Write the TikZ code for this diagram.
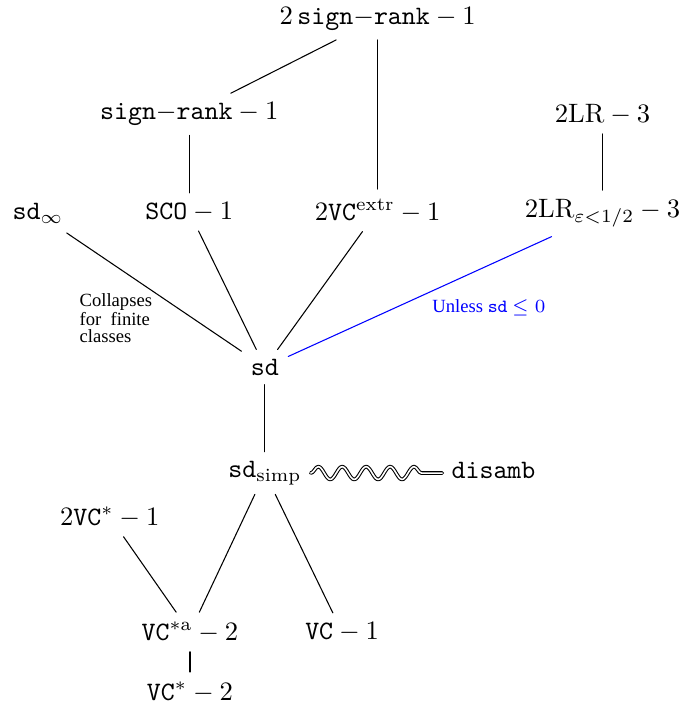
\documentclass[tikz,border=0pt]{standalone}
\usepackage{amsmath,amssymb}
\usepackage{fontspec}
\newfontfamily\notefont{Liberation Serif}
\usetikzlibrary{decorations.pathmorphing}
\newcommand{\srank}{\texttt{sign$-$rank}}

\begin{document}
\begin{tikzpicture}[line cap=round,line join=round,x=1.0cm,y=1.0cm,
  note/.style={font=\notefont\fontsize{7}{6.3}\selectfont,align=left},
  wavy/.style={double,decorate,decoration={snake,amplitude=2.4pt,segment length=9pt,post length=4pt}}]
\useasboundingbox (0,0) rectangle (8.97,9.42);

\node (srtwo) at (4.99,9.17) {$2\,\srank-1$};
\node (sr) at (2.50,7.91) {$\srank-1$};
\node (lr) at (7.96,7.91) {$2\mathrm{LR}-3$};
\node (sdinf) at (0.50,6.60) {$\texttt{sd}_\infty$};
\node (sco) at (2.50,6.62) {$\texttt{SCO}-1$};
\node (vcextr) at (4.99,6.64) {$2\texttt{VC}^{\mathrm{extr}}-1$};
\node (lreps) at (7.96,6.60) {$2\mathrm{LR}_{\varepsilon<1/2}-3$};
\node (sd) at (3.50,4.57) {$\texttt{sd}$};
\node (sdsimp) at (3.50,3.17) {$\texttt{sd}_{\mathrm{simp}}$};
\node (disamb) at (6.52,3.20) {\texttt{disamb}};
\node (vcstwo) at (1.45,2.59) {$2\texttt{VC}^*-1$};
\node (vcsa) at (2.51,1.07) {$\texttt{VC}^{*\mathrm{a}}-2$};
\node (vc) at (4.52,1.07) {$\texttt{VC}-1$};
\node (vcs) at (2.51,0.28) {$\texttt{VC}^*-2$};

% notes
\node[note] (collapse) at (1.53,5.22) {Collapses\\for\ \ finite\\classes};
\node[note,text=blue] (unless) at (6.46,5.35) {Unless \texttt{sd} $\le 0$};

\draw (srtwo) -- (sr);
\draw (srtwo) -- (vcextr);
\draw (sr) -- (sco);
\draw (lr) -- (lreps);
\draw (sdinf) -- (sd);
\draw (sco) -- (sd);
\draw (vcextr) -- (sd);
\draw [blue] (sd) -- (lreps);
\draw (sd) -- (sdsimp);
\draw [wavy] (sdsimp.east) -- (sdsimp.east -| disamb.west);
\draw (sdsimp) -- (vcsa);
\draw (sdsimp) -- (vc);
\draw (vcstwo) -- (vcsa);
\draw (vcsa) -- (vcs);
\end{tikzpicture}
\end{document}
